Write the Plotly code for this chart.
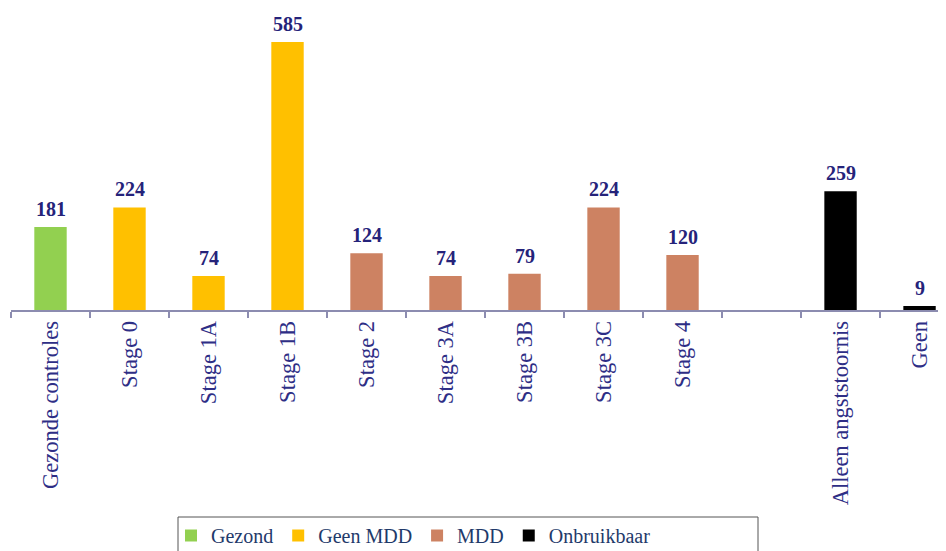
import plotly.graph_objects as go

categories = ["Gezonde controles", "Stage 0", "Stage 1A", "Stage 1B", "Stage 2",
              "Stage 3A", "Stage 3B", "Stage 3C", "Stage 4", " ",
              "Alleen angststoornis", "Geen"]

gezond_x = ["Gezonde controles"]
gezond_y = [181]
geen_mdd_x = ["Stage 0", "Stage 1A", "Stage 1B"]
geen_mdd_y = [224, 74, 585]
mdd_x = ["Stage 2", "Stage 3A", "Stage 3B", "Stage 3C", "Stage 4"]
mdd_y = [124, 74, 79, 224, 120]
onbruik_x = ["Alleen angststoornis", "Geen"]
onbruik_y = [259, 9]

series = [
    ("Gezond", gezond_x, gezond_y, "#92D050"),
    ("Geen MDD", geen_mdd_x, geen_mdd_y, "#FFC000"),
    ("MDD", mdd_x, mdd_y, "#CD8262"),
    ("Onbruikbaar", onbruik_x, onbruik_y, "#000000"),
]

FONT = "Liberation Serif"
fig = go.Figure()
for name, xs, ys, col in series:
    fig.add_trace(go.Bar(
        x=xs, y=ys, name=name, marker=dict(color=col, line=dict(width=0)),
        width=0.41,
    ))
    for xv, yv in zip(xs, ys):
        fig.add_annotation(x=xv, y=yv, text=f"<b>{yv}</b>", showarrow=False,
                           yanchor="bottom", yshift=5,
                           font=dict(family=FONT, size=20, color="#25237A"))

# legend frame (paper coords relative to plot area: left 11px, width 935px, bottom 310px, height 300px in window)
fig.add_shape(type="rect", xref="paper", yref="paper",
              x0=(178 - 11) / 935, x1=(758 - 11) / 935,
              y0=-(517 - 310) / 300, y1=-(570 - 310) / 300,
              line=dict(color="#555555", width=1), fillcolor="rgba(0,0,0,0)")

# page body has an 8px margin: figure is sized/offset to compensate
fig.update_layout(
    width=938, height=543,
    margin=dict(l=3, r=0, t=2, b=241, autoexpand=False),
    paper_bgcolor="white", plot_bgcolor="white",
    barmode="overlay",
    showlegend=True,
    legend=dict(orientation="h", x=(171 - 11) / 935, xanchor="left",
                y=-(516 - 310) / 300, yanchor="top",
                borderwidth=0, bgcolor="rgba(0,0,0,0)",
                font=dict(family=FONT, size=20, color="#1F3A6B")),
    xaxis=dict(type="category", categoryorder="array", categoryarray=categories,
               range=[-0.5, 11.335], tickson="boundaries", ticks="outside",
               ticklen=6, tickcolor="#8C8CB0", tickwidth=1.5,
               showline=True, linecolor="#8C8CB0", linewidth=2,
               tickangle=-90, showgrid=False, automargin=False,
               tickfont=dict(family=FONT, size=22.5, color="#2E2E86")),
    yaxis=dict(range=[0, 655], visible=False, showgrid=False, zeroline=False),
)

fig.write_html("out.html")
